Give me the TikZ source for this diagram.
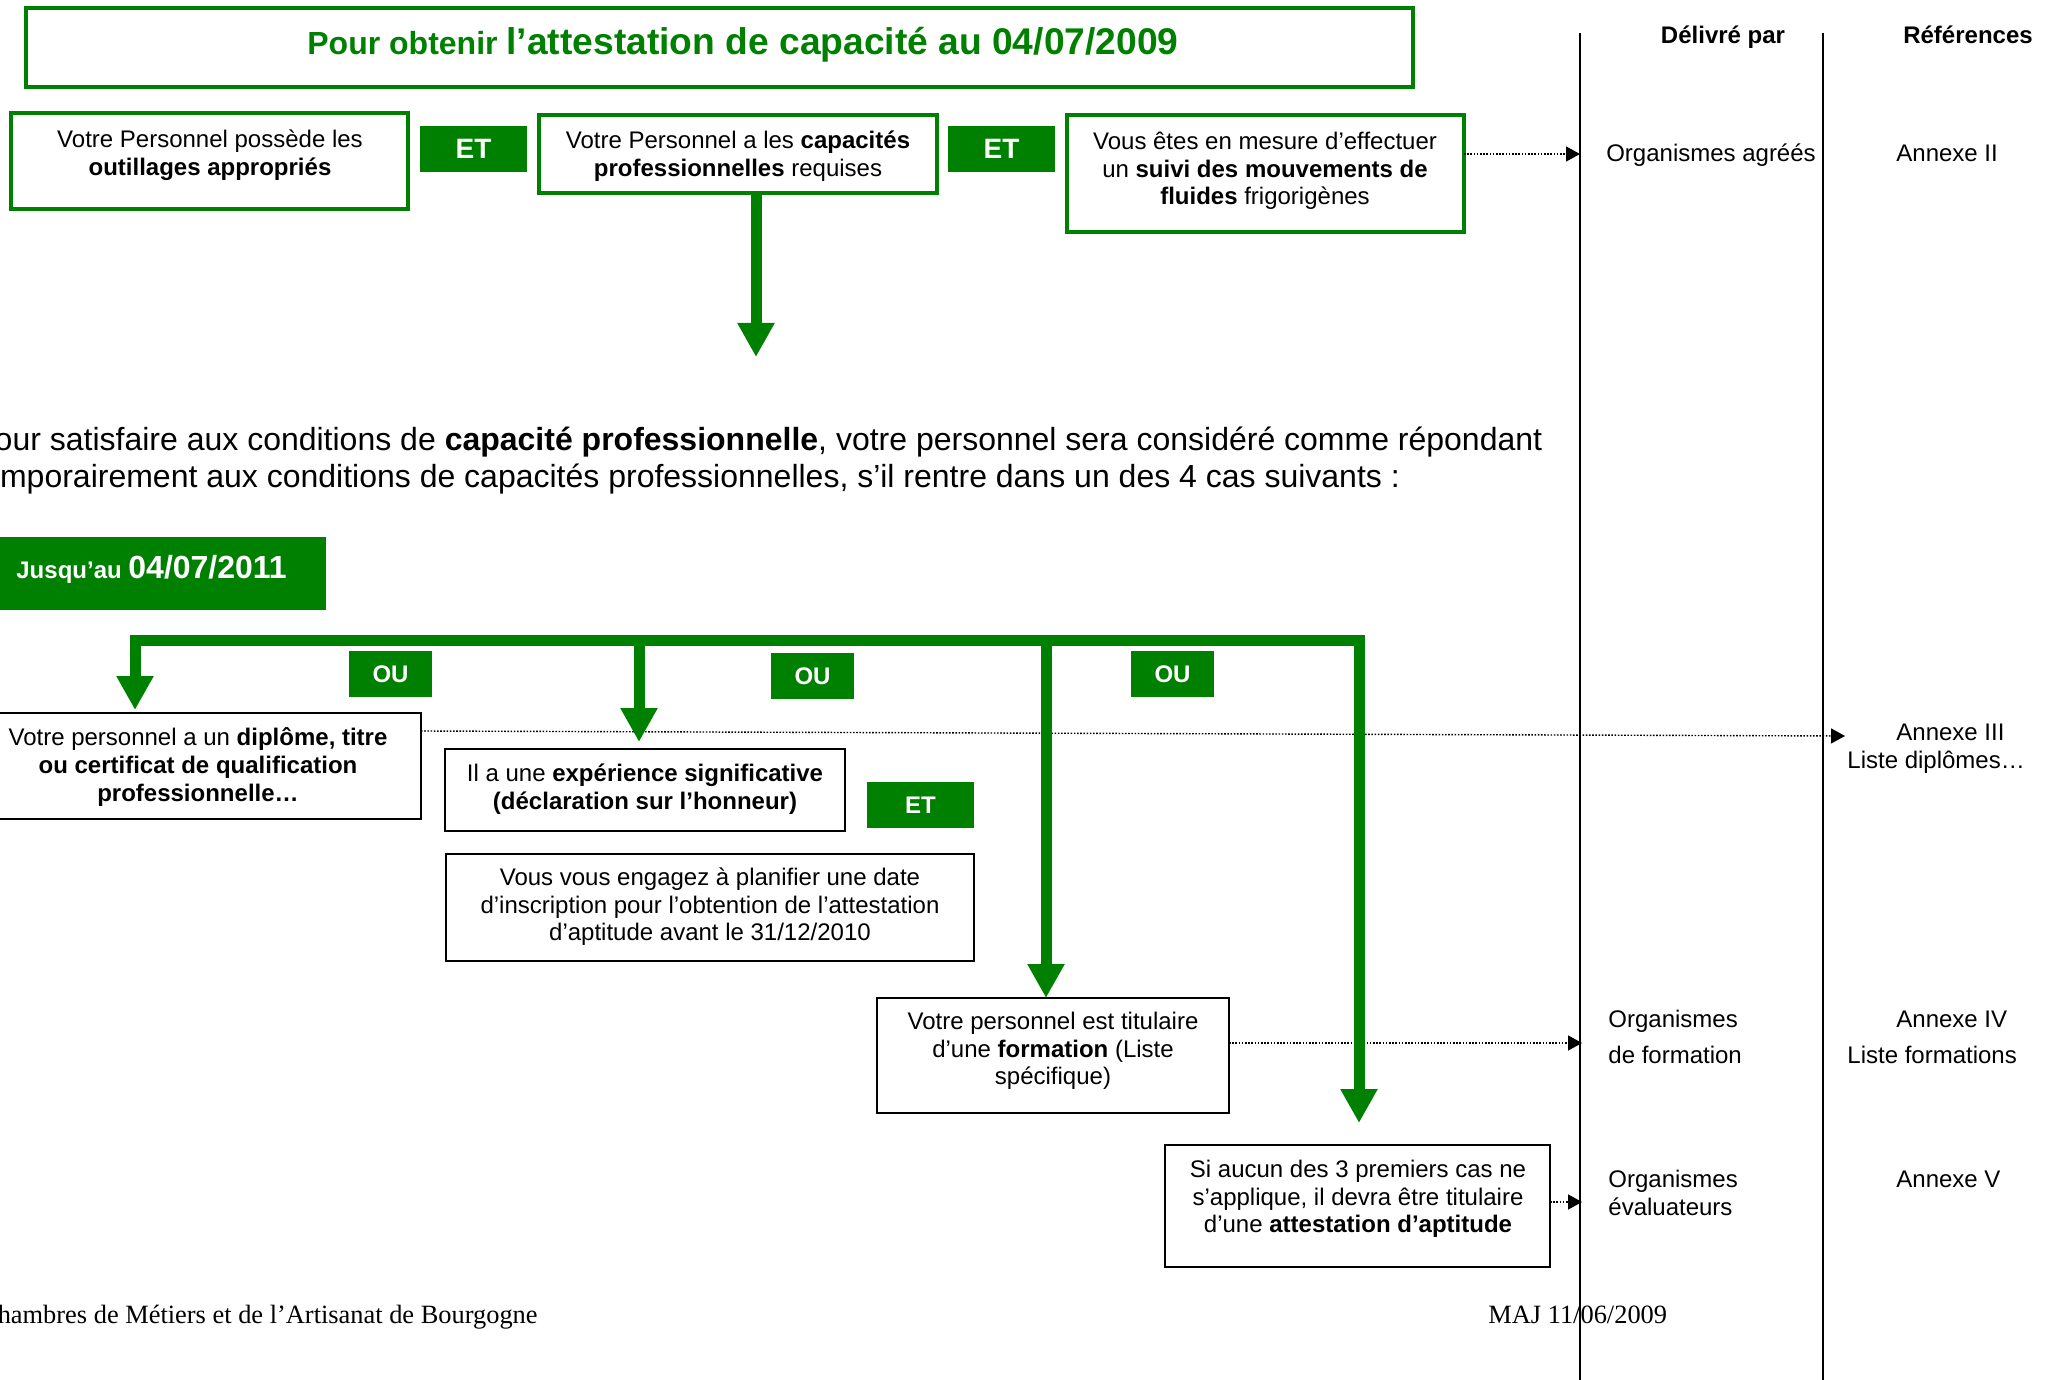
\documentclass[tikz,border=0pt]{standalone}
\usepackage{fontspec}
\setmainfont{Liberation Sans}
\newfontfamily\timesfont{Liberation Serif}
\usetikzlibrary{arrows.meta,calc}
\definecolor{gr}{RGB}{0,128,0}
\tikzset{
  gbox/.style={draw=gr, line width=1.75pt, rectangle, inner sep=0pt, outer sep=0pt, anchor=north west},
  kbox/.style={draw=black, line width=1.2pt, rectangle, inner sep=0pt, outer sep=0pt, anchor=north west},
  gtag/.style={fill=gr, text=white, rectangle, inner sep=0pt, outer sep=0pt, anchor=north west, font=\bfseries\fontsize{12pt}{14pt}\selectfont},
  txt/.style={align=center, inner sep=0pt, font=\fontsize{12pt}{13.8pt}\selectfont},
  rtxt/.style={inner sep=0pt, font=\fontsize{12pt}{13.8pt}\selectfont},
  gline/.style={draw=gr, line width=5.5pt},
  garrow/.style={draw=gr, line width=5.5pt, -{Triangle[width=17.5pt,length=17pt]}},
  darrow/.style={draw=black, line width=0.7pt, dash pattern=on 0.8pt off 0.8pt, -{Triangle[width=7.5pt,length=7pt]}},
  vline/.style={draw=black, line width=0.8pt}
}
\begin{document}
\begin{tikzpicture}[x=0.5pt,y=-0.5pt]
\useasboundingbox (0,0) rectangle (2051,1380);
\clip (0,0) rectangle (2051,1380);

% title
\node[gbox, minimum width=693.5pt, minimum height=39.5pt] (T) at (26,8) {};
\node[anchor=base west, inner sep=0pt, text=gr, font=\bfseries] (Tt) at (307,55)
  {{\fontsize{16pt}{19pt}\selectfont Pour obtenir }{\fontsize{18.6pt}{22pt}\selectfont l’attestation de capacité au 04/07/2009}};

% top row
\node[gbox, minimum width=198.5pt, minimum height=48pt] (b1) at (11,113) {};
\node[txt] (b1t) at (210,155) {Votre Personnel possède les\\\textbf{outillages appropriés}};
\node[gtag, minimum width=53.5pt, minimum height=23pt, font=\bfseries\fontsize{14pt}{16pt}\selectfont] (et1) at (420,126) {ET};
\node[gbox, minimum width=199pt, minimum height=39pt] (b2) at (539,115) {};
\node[txt] (b2t) at (738,156) {Votre Personnel a les \textbf{capacités}\\\textbf{professionnelles} requises};
\node[gtag, minimum width=53.5pt, minimum height=23pt, font=\bfseries\fontsize{14pt}{16pt}\selectfont] (et2) at (948,126) {ET};
\node[gbox, minimum width=198.5pt, minimum height=58.5pt] (b3) at (1067,115) {};
\node[txt] (b3t) at (1265,171) {Vous êtes en mesure d’effectuer\\un \textbf{suivi des mouvements de}\\\textbf{fluides} frigorigènes};

\coordinate (down) at (756,357);
\draw[garrow] (b2.south -| down) -- (down);

% paragraph
\node[anchor=base west, inner sep=0pt, font=\fontsize{16pt}{18.4pt}\selectfont] (p1) at (-27,450)
  {Pour satisfaire aux conditions de \textbf{capacité professionnelle}, votre personnel sera considéré comme répondant};
\node[anchor=base west, inner sep=0pt, font=\fontsize{16pt}{18.4pt}\selectfont] (p2) at (-27,487)
  {temporairement aux conditions de capacités professionnelles, s’il rentre dans un des 4 cas suivants :};

% Jusqu'au
\node[fill=gr, rectangle, inner sep=0pt, outer sep=0pt, anchor=north west, minimum width=166pt, minimum height=36.5pt] (J) at (-6,537) {};
\node[anchor=base west, inner sep=0pt, text=white, font=\bfseries] (Jt) at (16,578)
  {{\fontsize{12pt}{14pt}\selectfont Jusqu’au }{\fontsize{16pt}{19pt}\selectfont 04/07/2011}};

% boxes of the four cases
\node[kbox, minimum width=223pt, minimum height=53pt] (A) at (-25,713) {};
\node[txt] (At) at (198,767) {Votre personnel a un \textbf{diplôme, titre}\\\textbf{ou certificat de qualification}\\\textbf{professionnelle…}};
\node[kbox, minimum width=200pt, minimum height=41pt] (B) at (445,749) {};
\node[txt] (Bt) at (645,789) {Il a une \textbf{expérience significative}\\\textbf{(déclaration sur l’honneur)}};
\node[gtag, minimum width=53.5pt, minimum height=23pt] (et3) at (867,782) {ET};
\node[kbox, minimum width=264pt, minimum height=53.5pt] (C) at (446,854) {};
\node[txt] (Ct) at (710,907) {Vous vous engagez à planifier une date\\d’inscription pour l’obtention de l’attestation\\d’aptitude avant le 31/12/2010};
\node[kbox, minimum width=176pt, minimum height=57.5pt] (D) at (877,998) {};
\node[txt] (Dt) at (1053,1051) {Votre personnel est titulaire\\d’une \textbf{formation} (Liste\\spécifique)};
\node[kbox, minimum width=192.5pt, minimum height=61pt] (E) at (1165,1145) {};
\node[txt] (Et) at (1358,1199) {Si aucun des 3 premiers cas ne\\s’applique, il devra être titulaire\\d’une \textbf{attestation d’aptitude}};

% OU tags
\node[gtag, minimum width=41.5pt, minimum height=23pt] (ou1) at (349,651) {OU};
\node[gtag, minimum width=41.5pt, minimum height=23pt] (ou2) at (771,653) {OU};
\node[gtag, minimum width=41.5pt, minimum height=23pt] (ou3) at (1131,651) {OU};

% right columns
\coordinate (v1t) at (1580,33); \coordinate (v1b) at (1580,1380);
\coordinate (v2t) at (1823,33); \coordinate (v2b) at (1823,1380);
\draw[vline] (v1t) -- (v1b);
\draw[vline] (v2t) -- (v2b);
\node[rtxt, anchor=base, font=\bfseries\fontsize{12pt}{13.8pt}\selectfont] (h1) at (1723,44) {Délivré par};
\node[rtxt, anchor=base, font=\bfseries\fontsize{12pt}{13.8pt}\selectfont] (h2) at (1968,44) {Références};
\node[rtxt, anchor=base] (o1) at (1711,162) {Organismes agréés};
\node[rtxt, anchor=base west] (a2) at (1896,162) {Annexe II};
\node[rtxt, anchor=base west] (a3) at (1896,740) {Annexe III};
\node[rtxt, anchor=base west] (l3) at (1847,768) {Liste diplômes…};
\node[rtxt, anchor=base west] (o2) at (1608,1027) {Organismes};
\node[rtxt, anchor=base west] (o2b) at (1608,1063) {de formation};
\node[rtxt, anchor=base west] (a4) at (1896,1027) {Annexe IV};
\node[rtxt, anchor=base west] (l4) at (1847,1063) {Liste formations};
\node[rtxt, anchor=base west] (o3) at (1608,1187) {Organismes};
\node[rtxt, anchor=base west] (o3b) at (1608,1215) {évaluateurs};
\node[rtxt, anchor=base west] (a5) at (1896,1187) {Annexe V};

% dotted connectors
\coordinate (c1) at (1580,154);
\coordinate (c2) at (1845,736);
\coordinate (c3) at (1582,1043);
\coordinate (c4) at (1582,1202);
\draw[darrow] (b3.east |- c1) -- (c1);
\draw[darrow] ($(A.north east)+(0,18)$) -- (c2);
\draw[darrow] (D.east |- c3) -- (c3);
\draw[darrow] (E.east |- c4) -- (c4);

% green bus and arrows
\coordinate (bus1) at (135,640);
\coordinate (bus2) at (639,640);
\coordinate (bus3) at (1046,640);
\coordinate (bus4) at (1359,640);
\draw[gline, line cap=rect] (bus1) -- (bus4);
\draw[garrow, shorten >=1.5pt] (bus1) -- (bus1 |- A.north);
\draw[garrow, shorten >=3.5pt] (bus2) -- (bus2 |- B.north);
\draw[garrow] (bus3) -- (bus3 |- D.north);
\draw[garrow, shorten >=11pt] (bus4) -- (bus4 |- E.north);

% footer
\node[anchor=base east, inner sep=0pt, font=\timesfont\fontsize{13.2pt}{15pt}\selectfont] (f1) at (538,1323) {Chambres de Métiers et de l’Artisanat de Bourgogne};
\node[anchor=base west, inner sep=0pt, font=\timesfont\fontsize{13.2pt}{15pt}\selectfont] (f2) at (1488,1323) {MAJ 11/06/2009};
\end{tikzpicture}
\end{document}
